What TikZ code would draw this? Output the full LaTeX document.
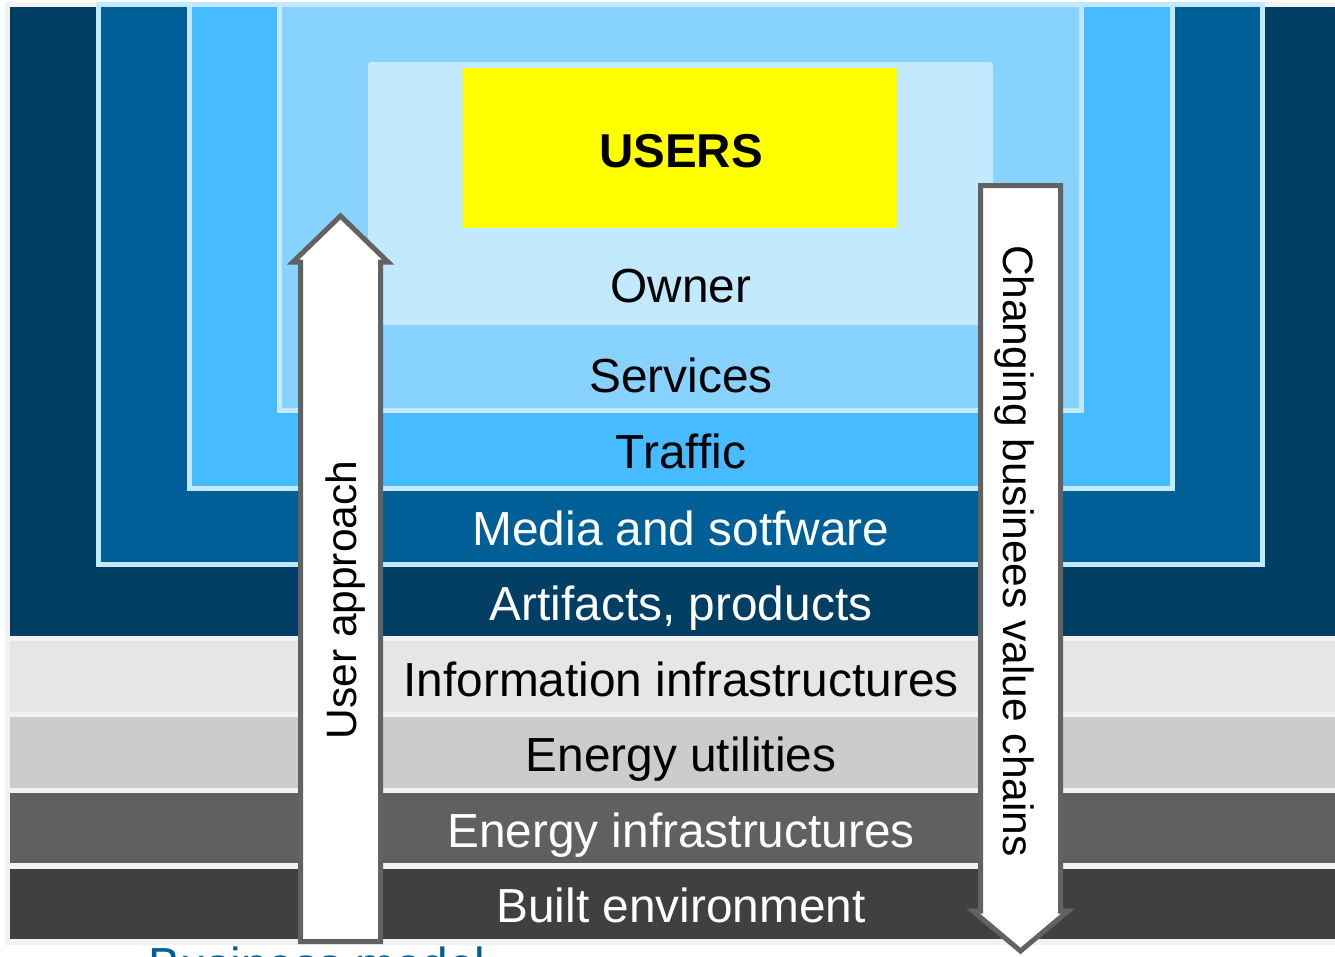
\documentclass[tikz,border=0pt]{standalone}
\usepackage{fontspec}
\setmainfont{Liberation Sans}
\definecolor{bgray}{HTML}{F2F2F2}
\definecolor{navy}{HTML}{003F63}
\definecolor{midblue}{HTML}{005F96}
\definecolor{skyblue}{HTML}{47BBFF}
\definecolor{lightblue}{HTML}{87D2FF}
\definecolor{paleblue}{HTML}{C2E9FF}
\definecolor{usersyellow}{HTML}{FFFF00}
\definecolor{gA}{HTML}{E6E6E6}
\definecolor{gB}{HTML}{CCCCCC}
\definecolor{gC}{HTML}{606060}
\definecolor{gD}{HTML}{404040}
\definecolor{arrowgray}{HTML}{626262}
\begin{document}
\begin{tikzpicture}[x=1pt,y=-1pt,
  lbl/.style={font=\fontsize{47.8}{56}\selectfont, inner sep=0pt, anchor=base},
  vlbl/.style={font=\fontsize{42.5}{50}\selectfont, inner sep=0pt, anchor=base},
  ubox/.style={line width=5pt, draw=paleblue},
  arrowbox/.style={line width=5pt, draw=arrowgray, fill=white, line join=miter}]
\useasboundingbox (0,0) rectangle (1335,956);
\fill[white] (0,0) rectangle (1335,956);
\fill[bgray] (5,2) rectangle (1335,945);
% nested U-shaped regions
\fill[navy] (10,7) rectangle (1335,636);
\filldraw[ubox, fill=midblue] (98.5,4.5) rectangle (1262.5,564.5);
\filldraw[ubox, fill=skyblue] (189,4.5) rectangle (1172,488.5);
\filldraw[ubox, fill=lightblue] (279.5,4.5) rectangle (1081.5,410.5);
\fill[paleblue, rounded corners=3pt] (368,62) rectangle (993,325);
\fill[usersyellow] (463,68) rectangle (897,228);
% bottom bands
\fill[gA] (10,641) rectangle (1335,712);
\fill[gB] (10,717) rectangle (1335,788);
\fill[gC] (10,793) rectangle (1335,863);
\fill[gD] (10,869) rectangle (1335,939);
% labels
\node[lbl, font=\fontsize{47.5}{56}\selectfont\bfseries] (users) at (681,167) {USERS};
\node[lbl] (owner) at (681,302) {Owner};
\node[lbl] (services) at (681,392) {Services};
\node[lbl] (traffic) at (681,468) {Traffic};
\node[lbl, text=white] (media) at (681,545) {Media and sotfware};
\node[lbl, text=white] (artifacts) at (681,620) {Artifacts, products};
\node[lbl] (info) at (681,696) {Information infrastructures};
\node[lbl] (eutil) at (681,771) {Energy utilities};
\node[lbl, text=white] (einfra) at (681,847) {Energy infrastructures};
\node[lbl, text=white] (built) at (681,922) {Built environment};
% arrows
\draw[arrowbox] (300.5,941.5) -- (300.5,262) -- (293,262) -- (340.5,216) -- (388,262) -- (380.5,262) -- (380.5,941.5) -- cycle;
\draw[arrowbox] (980.5,185.5) -- (1060.5,185.5) -- (1060.5,911) -- (1068,911) -- (1020.5,951) -- (973,911) -- (980.5,911) -- cycle;
\node[vlbl, rotate=90] (userapp) at (356,600) {User approach};
\node[vlbl, rotate=-90] (chain) at (1003,551) {Changing businees value chains};
% cut-off caption
\node[lbl, anchor=base west, text=midblue] (bm) at (148,981) {Business model};
\end{tikzpicture}
\end{document}
